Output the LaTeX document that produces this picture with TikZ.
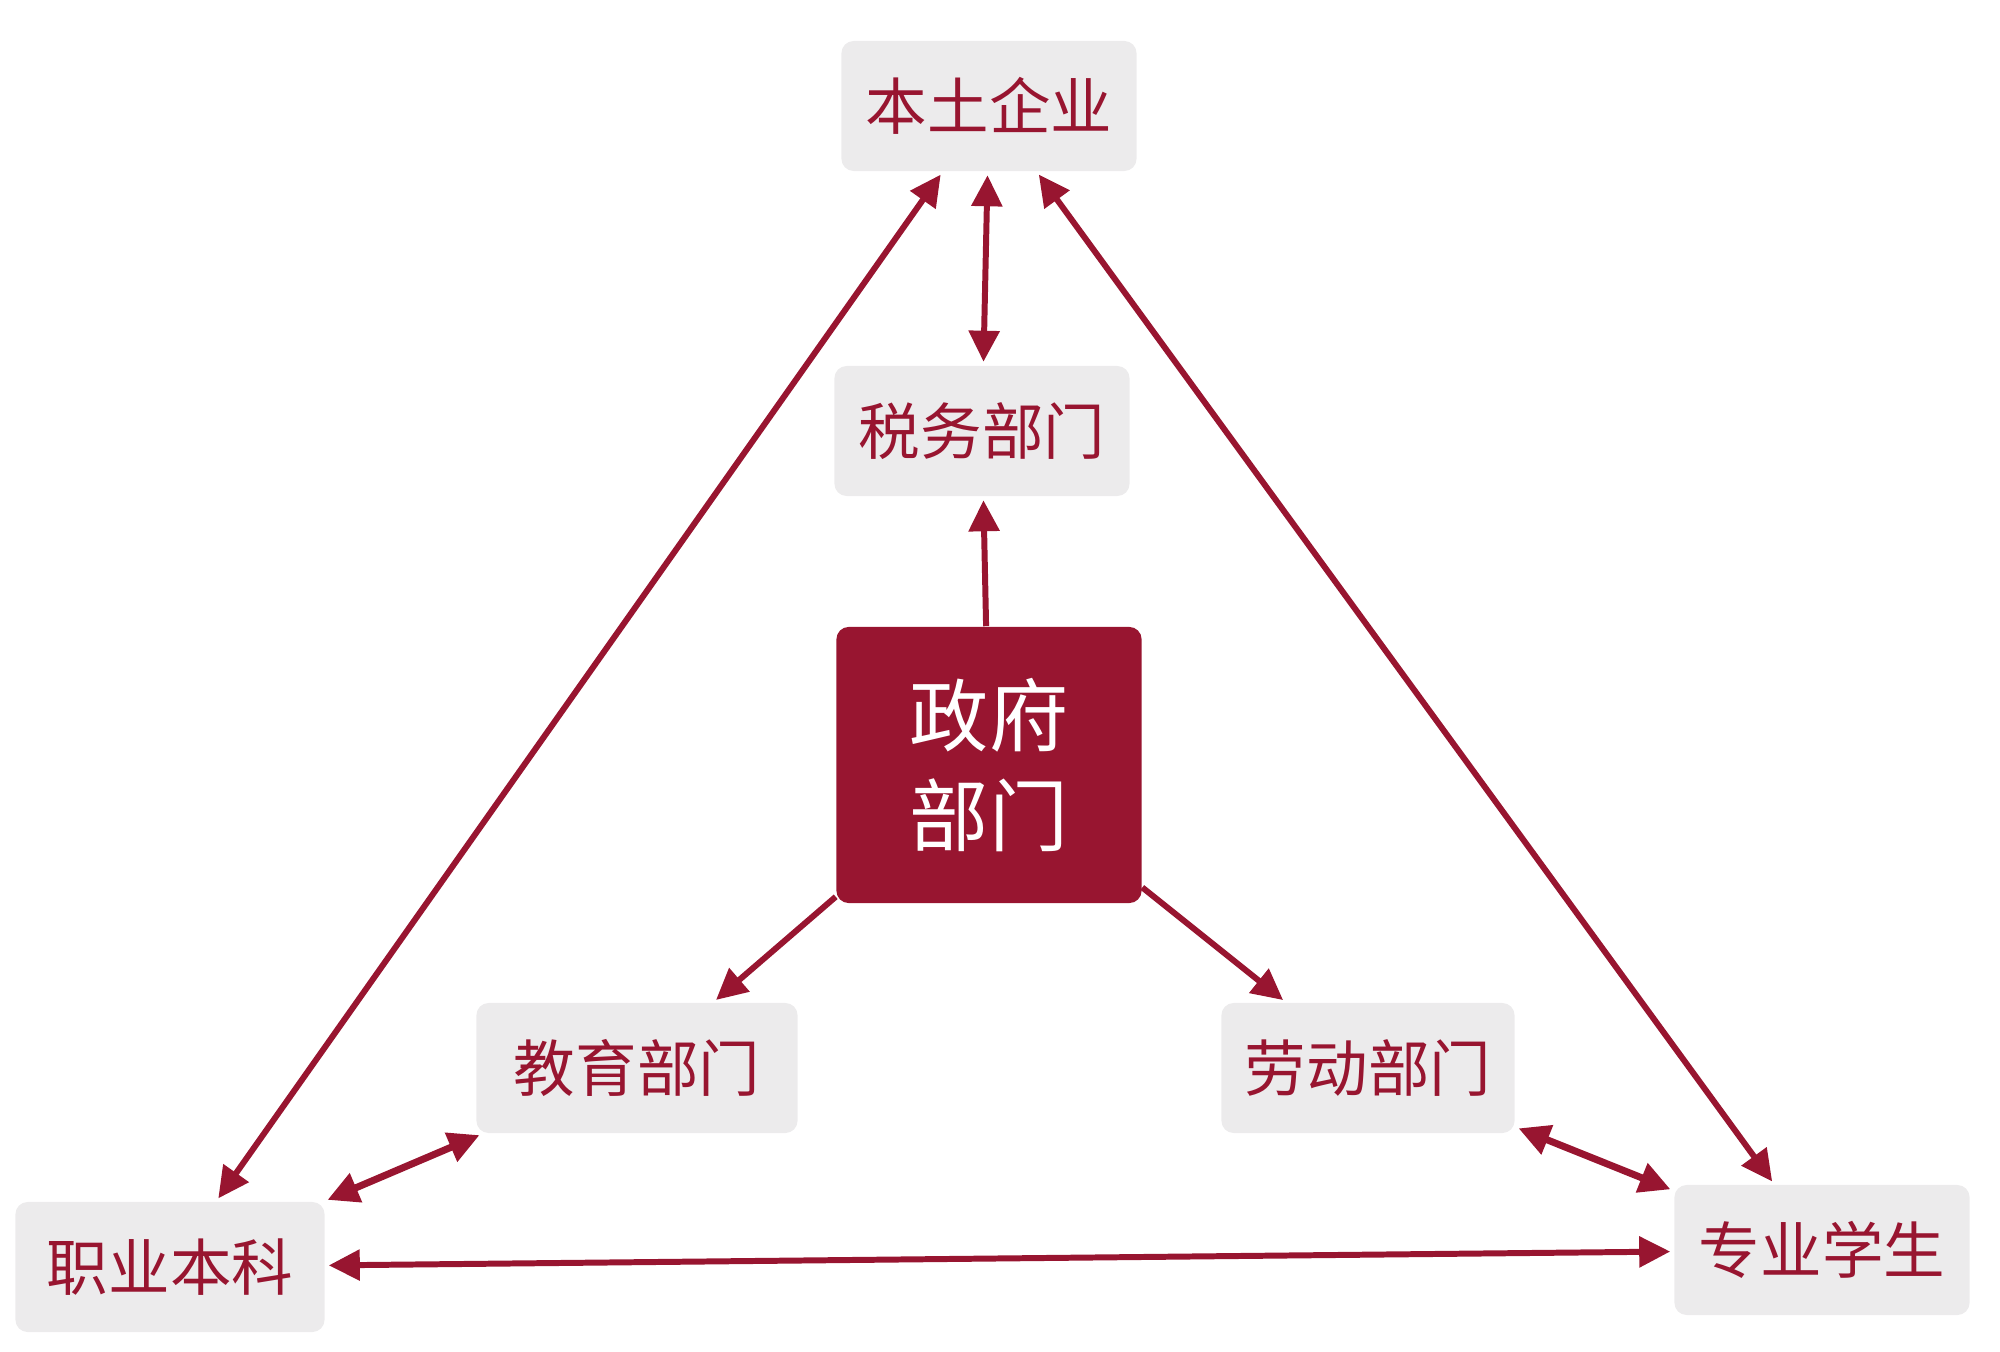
\documentclass[tikz,border=0pt]{standalone}
\usepackage{fontspec}
\newfontfamily\cjk{Noto Sans CJK SC}
\usepackage{tikz}
\usetikzlibrary{arrows.meta}
\definecolor{darkred}{HTML}{981530}
\definecolor{boxgray}{HTML}{ECEBEC}

\begin{document}
\begin{tikzpicture}[x=0.01cm, y=-0.01cm,
    box/.style={fill=boxgray, rounded corners=3.5pt, text=darkred,
      minimum width=2.95cm, minimum height=1.3cm,
      font=\cjk\fontsize{17.5}{21}\selectfont},
    govbox/.style={fill=darkred, rounded corners=3.5pt, text=white,
      minimum width=3.05cm, minimum height=2.76cm, align=center,
      font=\cjk\fontsize{22.5}{28.5}\selectfont},
    link/.style={draw=darkred, line width=1.7pt,
      -{Triangle[length=3.1mm, width=3mm]}, shorten >=1pt},
    both/.style={link, {Triangle[length=3.1mm, width=3mm]}-{Triangle[length=3.1mm, width=3mm]},
      shorten <=1pt}]
      \useasboundingbox (0,0) rectangle (2000,1352);

      % Boxes
      \node[box] (qiye) at (989,106) {本土企业};
      \node[box] (shuiwu) at (982,431) {税务部门};
      \node[govbox] (zhengfu) at (989,765) {政府\\部门};
      \node[box, minimum width=3.21cm] (jiaoyu) at (637,1068) {教育部门};
      \node[box, minimum width=2.93cm] (laodong) at (1368,1068) {劳动部门};
      \node[box, minimum width=3.09cm] (zhiye) at (170,1267) {职业本科};
      \node[box] (xuesheng) at (1822,1250) {专业学生};

      % From the government to its departments
      \draw[link] (zhengfu) -- (shuiwu);
      \draw[link] (zhengfu) -- (jiaoyu);
      \draw[link] (zhengfu) -- (laodong);

      % Two-way links
      \draw[both] (qiye) -- (shuiwu);
      \draw[both] (qiye) -- (zhiye);
      \draw[both] (qiye) -- (xuesheng);
      \draw[both, line width=2pt] (jiaoyu) -- (zhiye);
      \draw[both, line width=2pt] (laodong) -- (xuesheng);
      \draw[both] (zhiye) -- (xuesheng);
    \end{tikzpicture}
\end{document}
